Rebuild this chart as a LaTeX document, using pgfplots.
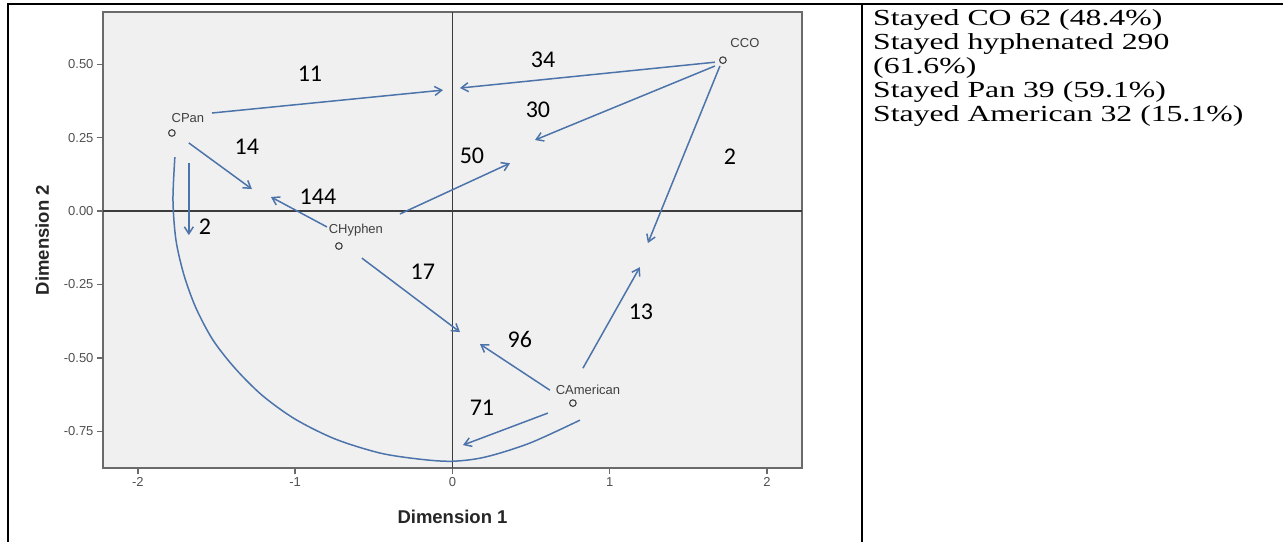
\documentclass[border=0pt]{standalone}
\usepackage{pgfplots}
\pgfplotsset{compat=1.18}
\usepackage{fontspec}
\usepackage{graphicx}
\usetikzlibrary{arrows.meta}
\setmainfont{Liberation Sans}
\newfontfamily\calfont{Carlito}
\newfontfamily\serfont{Liberation Serif}
\definecolor{plotbg}{HTML}{F0F0F0}
\definecolor{framegray}{HTML}{6A6A6A}
\definecolor{zerocol}{HTML}{3C3C3C}
\definecolor{arrowblue}{RGB}{76,116,170}
\definecolor{ticktext}{HTML}{505050}
\newcommand\ticklabfont{\fontsize{13}{13}\selectfont}
\newcommand\axlabfont{\fontsize{18.5}{18.5}\selectfont\bfseries}
\newcommand\numfont{\calfont\fontsize{24}{24}\selectfont}
\newcommand\ptfont{\fontsize{13}{13}\selectfont}
\newcommand\rtxt[1]{\scalebox{1.38}[1]{#1}}
\begin{document}
\begin{tikzpicture}
\path[use as bounding box] (0pt,0pt) rectangle (1283pt,542pt);
\begin{axis}[
  at={(103pt,74pt)}, anchor=south west,
  scale only axis, width=699pt, height=456pt,
  xmin=-2.222, xmax=2.223, ymin=-0.875, ymax=0.678,
  axis background/.style={fill=plotbg},
  axis line style={draw=framegray, line width=1.6pt},
  xtick={-2,-1,0,1,2}, xticklabels={-2,-1,0,1,2},
  ytick={-0.75,-0.5,-0.25,0,0.25,0.5},
  yticklabels={-0.75,-0.50,-0.25,0.00,0.25,0.50},
  tick align=outside, tick pos=left, major tick length=6pt,
  every tick/.style={draw=framegray, line width=1.4pt},
  ticklabel style={font=\ticklabfont, text=ticktext},
  xlabel={Dimension 1}, ylabel={Dimension 2},
  label style={font=\axlabfont, text=black!85},
  xlabel style={at={(axis description cs:0.5,-0.107)}, anchor=center},
  ylabel style={at={(axis description cs:-0.087,0.5)}, anchor=center},
  clip=false,
  arc/.style={arrowblue, line width=1.5pt, no marks, smooth},
  arr/.style={arrowblue, line width=1.5pt, no marks, -{Straight Barb[length=7pt,width=9pt]}},
]
% zero reference lines
\draw[zerocol, line width=1.3pt] (axis cs:0,-0.875) -- (axis cs:0,0.678);
\draw[zerocol, line width=1.3pt] (axis cs:-2.222,0) -- (axis cs:2.223,0);

% big arc (Pan -> American, no head)
\addplot[arc] coordinates {
 (-1.765,0.184) (-1.777,0.037) (-1.758,-0.099) (-1.707,-0.218) (-1.631,-0.330)
 (-1.523,-0.439) (-1.383,-0.535) (-1.211,-0.627) (-1.002,-0.708) (-0.747,-0.776)
 (-0.461,-0.824) (-0.207,-0.845) (-0.003,-0.852) (0.207,-0.838) (0.493,-0.790)
 (0.811,-0.712)};

% transition arrows
\addplot[arr] coordinates {(-1.529,0.334) (-0.060,0.412)}; % 11
\addplot[arr] coordinates {(1.669,0.507) (0.048,0.419)};   % 34
\addplot[arr] coordinates {(1.669,0.494) (0.525,0.242)};   % 30
\addplot[arr] coordinates {(1.701,0.494) (1.243,-0.109)};  % 2 (CO)
\addplot[arr] coordinates {(0.830,-0.535) (1.192,-0.191)}; % 13
\addplot[arr] coordinates {(0.620,-0.610) (0.175,-0.453)}; % 96
\addplot[arr] coordinates {(-0.576,-0.160) (0.048,-0.412)};% 17
\addplot[arr] coordinates {(-0.798,-0.054) (-1.154,0.048)};% 144
\addplot[arr] coordinates {(-0.334,-0.010) (0.366,0.163)}; % 50
\addplot[arr] coordinates {(-1.676,0.232) (-1.275,0.075)}; % 14
\addplot[arr] coordinates {(-1.676,0.163) (-1.676,-0.082)};% 2 (Pan)
\addplot[arr] coordinates {(0.607,-0.688) (0.067,-0.797)}; % 71

% category points
\addplot[only marks, mark=o, mark size=3.3pt, mark options={draw=black!75, line width=1.1pt, fill=plotbg}]
 coordinates {(-1.784,0.266) (1.720,0.514) (-0.722,-0.119) (0.766,-0.654)};

% point labels
\node[font=\ptfont, text=black!75] at (axis cs:-1.682,0.317) {CPan};
\node[font=\ptfont, text=black!75] at (axis cs:1.860,0.572) {CCO};
\node[font=\ptfont, text=black!75] at (axis cs:-0.614,-0.065) {CHyphen};
\node[font=\ptfont, text=black!75] at (axis cs:0.862,-0.610) {CAmerican};

% counts
\node[font=\numfont] at (axis cs:-0.906,0.467) {11};
\node[font=\numfont] at (axis cs:0.576,0.514) {34};
\node[font=\numfont] at (axis cs:0.544,0.344) {30};
\node[font=\numfont] at (axis cs:0.124,0.187) {50};
\node[font=\numfont] at (axis cs:-0.855,0.048) {144};
\node[font=\numfont] at (axis cs:-1.307,0.218) {14};
\node[font=\numfont] at (axis cs:-1.574,-0.054) {2};
\node[font=\numfont] at (axis cs:-0.188,-0.208) {17};
\node[font=\numfont] at (axis cs:1.199,-0.344) {13};
\node[font=\numfont] at (axis cs:0.429,-0.439) {96};
\node[font=\numfont] at (axis cs:0.188,-0.671) {71};
\node[font=\numfont] at (axis cs:1.765,0.184) {2};
\end{axis}

% table borders
\draw[black, line width=1.5pt] (7pt,538pt) -- (1283pt,538pt);
\draw[black, line width=2pt] (8pt,538pt) -- (8pt,0pt);
\draw[black, line width=2pt] (862pt,538pt) -- (862pt,0pt);

% right-hand text
\begin{scope}[every node/.style={anchor=base west, inner sep=0pt, font=\serfont\fontsize{23}{23}\selectfont}]
\node at (873pt,516pt) {\rtxt{Stayed CO 62 (48.4\%)}};
\node at (873pt,492pt) {\rtxt{Stayed hyphenated 290}};
\node at (873pt,468pt) {\rtxt{(61.6\%)}};
\node at (873pt,444pt) {\rtxt{Stayed Pan 39 (59.1\%)}};
\node at (873pt,420pt) {\rtxt{Stayed American 32 (15.1\%)}};
\end{scope}
\end{tikzpicture}
\end{document}
